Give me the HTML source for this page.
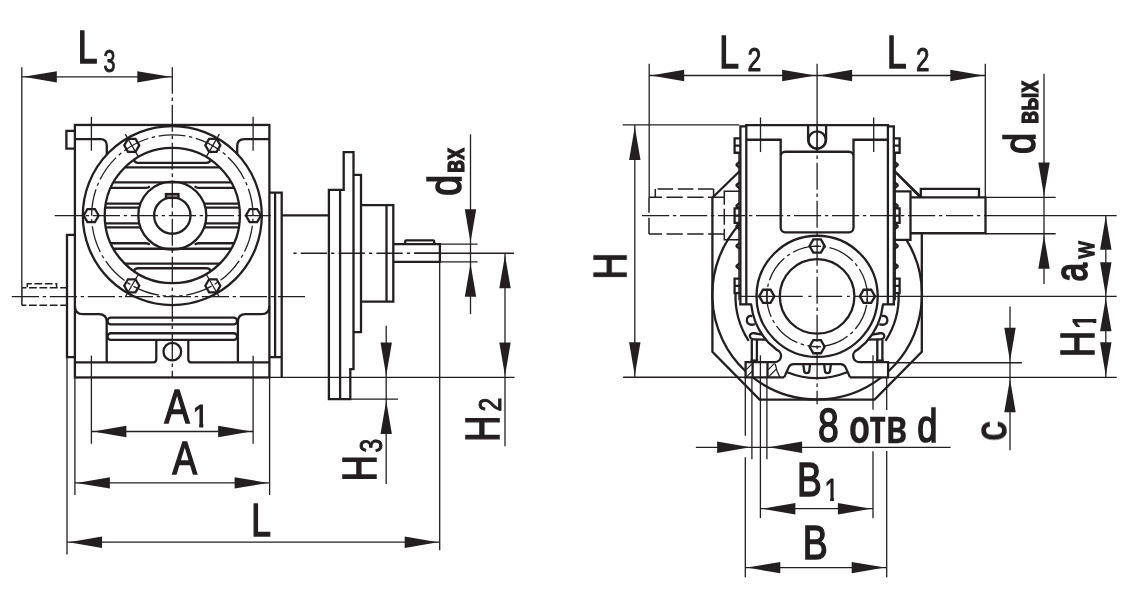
<!DOCTYPE html>
<html lang="ru">
<head>
<meta charset="utf-8">
<title>Габаритные и присоединительные размеры редуктора</title>
<style>
html,body{margin:0;padding:0;background:#fff;}
body{width:1143px;height:593px;overflow:hidden;}
svg{display:block;}
.k{stroke:#231f20;stroke-width:2.3;fill:none;}
.m{stroke:#231f20;stroke-width:1.5;fill:none;}
.n{stroke:#231f20;stroke-width:1.3;fill:none;}
.a{fill:#231f20;stroke:none;}
.tx{opacity:0.999;}
.t{font-family:"Liberation Sans",sans-serif;fill:#231f20;}
.b{font-weight:bold;}
</style>
</head>
<body>
<svg width="1143" height="593" viewBox="0 0 1143 593">
<rect x="0" y="0" width="1143" height="593" fill="#fff"/>
<g transform="translate(0 0.35)">
<g id="left-view">
<rect class="k" x="74.9" y="124.6" width="194.5" height="252.5"/>
<path class="k" d="M74.9 130.5H66.4V148.2H74.9"/>
<path class="k" d="M74.9 234.6H67V356.8H74.9"/>
<path class="k" d="M269.4 192.2H281.7V377.1"/>
<line class="k" x1="275.1" y1="192.2" x2="275.1" y2="356.8"/>
<line class="k" x1="269.4" y1="356.8" x2="281.7" y2="356.8"/>
<path class="k" d="M74.9 138.7H100.3Q106.8 138.7 106.8 145.2V154.21"/>
<path class="k" d="M269.4 138.7H244.4Q237.2 138.7 237.2 145.89999999999998V154.21"/>
<path class="k" d="M74.9 305.8Q74.9 313.8 83 313.8H99Q106.7 313.8 106.7 321.5V362.1"/>
<path class="k" d="M269.4 305.8Q269.4 313.8 261.3 313.8H245.6Q237.9 313.8 237.9 321.5V362.1"/>
<path class="k" d="M74.9 362.1H152.8Q156.3 362.1 156.3 358.3V339.6"/>
<path class="k" d="M269.4 362.1H191.8Q188.3 362.1 188.3 358.3V339.6"/>
<rect class="k" x="107.6" y="317.2" width="129.4" height="6.9" rx="3.2"/>
<rect class="k" x="107.6" y="332.9" width="129.4" height="6.7" rx="3.2"/>
<circle class="k" cx="172.3" cy="351.3" r="8.8"/>
<circle class="k" cx="172.3" cy="215.2" r="89.5"/>
<circle class="k" cx="172.3" cy="215.2" r="67.6"/>
<circle class="k" cx="172.3" cy="215.2" r="34"/>
<circle class="k" cx="172.3" cy="215.2" r="18.2"/>
<circle class="n" cx="172.3" cy="215.2" r="80.7" stroke-dasharray="27 3.6 3.4 3.65" stroke-dashoffset="24.2" transform="rotate(90 172.3 215.2)"/>
<rect class="k" x="165.9" y="193.7" width="12.6" height="3.9" style="fill:#8a8788"/>
<path class="k" d="M133.85 159.6Q134.85 162.5 137.85 162.5H206.75Q209.75 162.5 210.75 159.6"/>
<line class="k" x1="124.8" y1="167.1" x2="219.8" y2="167.1"/>
<line class="k" x1="113.41" y1="182" x2="231.19" y2="182"/>
<path class="k" d="M110.64 187.5H146Q148.5 187.5 149.8 185.9"/>
<path class="k" d="M233.96 187.5H198.6Q196.1 187.5 194.8 185.9"/>
<line class="k" x1="105.76" y1="203.3" x2="140.45" y2="203.3"/>
<line class="k" x1="204.15" y1="203.3" x2="238.84" y2="203.3"/>
<line class="k" x1="105.16" y1="207.3" x2="139.23" y2="207.3"/>
<line class="k" x1="205.37" y1="207.3" x2="239.44" y2="207.3"/>
<path class="k" d="M133.85 270.8Q134.85 267.9 137.85 267.9H206.75Q209.75 267.9 210.75 270.8"/>
<line class="k" x1="124.8" y1="263.3" x2="219.8" y2="263.3"/>
<line class="k" x1="113.41" y1="248.4" x2="231.19" y2="248.4"/>
<path class="k" d="M110.64 242.9H146Q148.5 242.9 149.8 244.5"/>
<path class="k" d="M233.96 242.9H198.6Q196.1 242.9 194.8 244.5"/>
<line class="k" x1="105.76" y1="227.1" x2="140.45" y2="227.1"/>
<line class="k" x1="204.15" y1="227.1" x2="238.84" y2="227.1"/>
<line class="k" x1="105.16" y1="223.1" x2="139.23" y2="223.1"/>
<line class="k" x1="205.37" y1="223.1" x2="239.44" y2="223.1"/>
<polygon class="k" points="260.9,215.2 257.15,221.7 249.65,221.7 245.9,215.2 249.65,208.7 257.15,208.7"/>
<polygon class="k" points="220.35,285.43 216.6,291.93 209.1,291.93 205.35,285.43 209.1,278.94 216.6,278.94"/>
<line class="n" x1="206.35" y1="274.18" x2="219.35" y2="296.69"/>
<polygon class="k" points="139.25,285.43 135.5,291.93 128,291.93 124.25,285.43 128,278.94 135.5,278.94"/>
<line class="n" x1="138.25" y1="274.18" x2="125.25" y2="296.69"/>
<polygon class="k" points="98.7,215.2 94.95,221.7 87.45,221.7 83.7,215.2 87.45,208.7 94.95,208.7"/>
<polygon class="k" points="139.25,144.97 135.5,151.46 128,151.46 124.25,144.97 128,138.47 135.5,138.47"/>
<line class="n" x1="138.25" y1="156.22" x2="125.25" y2="133.71"/>
<polygon class="k" points="220.35,144.97 216.6,151.46 209.1,151.46 205.35,144.97 209.1,138.47 216.6,138.47"/>
<line class="n" x1="206.35" y1="156.22" x2="219.35" y2="133.71"/>
<line class="n" x1="91.4" y1="116.5" x2="91.4" y2="150.3"/>
<line class="n" x1="91.4" y1="355.3" x2="91.4" y2="443.4"/>
<line class="n" x1="253.1" y1="116.5" x2="253.1" y2="150.3"/>
<line class="n" x1="253.1" y1="355.3" x2="253.1" y2="443.4"/>
<line class="n" x1="172.3" y1="67" x2="172.3" y2="377.4" stroke-dasharray="27.2 3.7 3.4 3.7" stroke-dashoffset="0.7"/>
<line class="n" x1="54.8" y1="215.3" x2="271" y2="215.3" stroke-dasharray="27.2 3.7 3.4 3.7"/>
<line class="n" x1="11.8" y1="296.3" x2="305.3" y2="296.3" stroke-dasharray="27.2 3.7 3.4 3.7"/>
<path class="m" d="M21.9 287.3V305"/>
<path class="m" d="M67 287.3H21.9M67 305H21.9" stroke-dasharray="7.8 2.6" stroke-dashoffset="1"/>
<path class="m" d="M27.3 287.3V283.5H56.6V287.3" stroke-dasharray="7.8 2.6" stroke-dashoffset="-0.5"/>
<line class="k" x1="281.7" y1="215" x2="328.9" y2="215"/>
<path class="k" d="M328.9 398.7V189.5H343.7V151.7H353.5V368.7H350.3V398.7Z"/>
<line class="k" x1="340.1" y1="189.5" x2="340.1" y2="398.7"/>
<path class="k" d="M353.5 174.5H361V331.8H353.5"/>
<path class="k" d="M361 204.7H393.3V301.3H361"/>
<line class="k" x1="386.5" y1="204.7" x2="386.5" y2="301.3"/>
<path class="k" d="M393.3 243.8H439.9V261.5H393.3"/>
<path class="k" d="M405.2 243.8V241Q405.2 240 406.2 240H433.2Q434.2 240 434.2 241V243.8"/>
<line class="n" x1="293.4" y1="252.9" x2="441" y2="252.9" stroke-dasharray="3.2 4.2 26.3 4.1"/>
<line class="n" x1="414.1" y1="252.9" x2="514" y2="252.9"/>
<line class="n" x1="269.7" y1="377.1" x2="514.5" y2="377.1"/>
<line class="n" x1="350.3" y1="398.7" x2="398" y2="398.7"/>
</g>
<g id="right-view">
<line class="k" x1="745.1" y1="124.8" x2="889.1" y2="124.8"/>
<path class="k" d="M740.4 304V126H746.3"/>
<line class="n" x1="738.9" y1="152.4" x2="738.9" y2="300"/>
<line class="k" x1="746.3" y1="124.8" x2="746.3" y2="304"/>
<line class="k" x1="739.2" y1="304" x2="751.9" y2="304"/>
<path class="k" d="M740.1 138H734.6V152.4H740.1M734.6 145.2H740.1"/>
<path class="k" d="M740.1 208.1H734.6V222.5H740.1M734.6 215.3H740.1"/>
<path class="k" d="M740.1 278.3H734.6V292.7H740.1M734.6 285.5H740.1"/>
<path class="k" d="M739.8 161.5L736.6 163.9V165.1L739.8 167.5" stroke-linejoin="round"/>
<path class="k" d="M739.8 182L736.6 184.4V185.6L739.8 188" stroke-linejoin="round"/>
<path class="k" d="M739.8 202.6L736.6 205V206.2L739.8 208.6" stroke-linejoin="round"/>
<path class="k" d="M739.8 223L736.6 225.4V226.6L739.8 229" stroke-linejoin="round"/>
<path class="k" d="M739.8 242.6L736.6 245V246.2L739.8 248.6" stroke-linejoin="round"/>
<path class="k" d="M739.8 263L736.6 265.4V266.6L739.8 269" stroke-linejoin="round"/>
<path class="k" d="M746.3 139.4H780.7V155"/>
<line class="k" x1="739.8" y1="170.6" x2="712.6" y2="197.2"/>
<path class="k" d="M752.3 315.7C748.6 314.6 746.5 317.5 746.8 320.6C747.1 323.6 750.5 325.4 754.8 323.8"/>
<path class="k" d="M762.1 334.3L754.3 332.9C750.8 332.5 749.6 334.3 749.9 336C750.3 338.3 752.3 339.1 755 339.1L766 339.3"/>
<line class="k" x1="751.8" y1="339.4" x2="751.8" y2="361.7"/>
<line class="k" x1="756.9" y1="339.4" x2="756.9" y2="361.7"/>
<line class="k" x1="750.6" y1="360.2" x2="758.1" y2="360.2"/>
<path class="k" d="M893.8 304V126H887.9"/>
<line class="n" x1="895.3" y1="152.4" x2="895.3" y2="300"/>
<line class="k" x1="887.9" y1="124.8" x2="887.9" y2="304"/>
<line class="k" x1="895" y1="304" x2="882.3" y2="304"/>
<path class="k" d="M894.1 138H899.6V152.4H894.1M899.6 145.2H894.1"/>
<path class="k" d="M894.1 208.1H899.6V222.5H894.1M899.6 215.3H894.1"/>
<path class="k" d="M894.1 278.3H899.6V292.7H894.1M899.6 285.5H894.1"/>
<path class="k" d="M894.4 161.5L897.6 163.9V165.1L894.4 167.5" stroke-linejoin="round"/>
<path class="k" d="M894.4 182L897.6 184.4V185.6L894.4 188" stroke-linejoin="round"/>
<path class="k" d="M894.4 202.6L897.6 205V206.2L894.4 208.6" stroke-linejoin="round"/>
<path class="k" d="M894.4 223L897.6 225.4V226.6L894.4 229" stroke-linejoin="round"/>
<path class="k" d="M894.4 242.6L897.6 245V246.2L894.4 248.6" stroke-linejoin="round"/>
<path class="k" d="M894.4 263L897.6 265.4V266.6L894.4 269" stroke-linejoin="round"/>
<path class="k" d="M887.9 139.4H853.5V155"/>
<line class="k" x1="894.4" y1="170.6" x2="921.6" y2="197.2"/>
<path class="k" d="M881.9 315.7C885.6 314.6 887.7 317.5 887.4 320.6C887.1 323.6 883.7 325.4 879.4 323.8"/>
<path class="k" d="M872.1 334.3L879.9 332.9C883.4 332.5 884.6 334.3 884.3 336C883.9 338.3 881.9 339.1 879.2 339.1L868.2 339.3"/>
<line class="k" x1="882.4" y1="339.4" x2="882.4" y2="361.7"/>
<line class="k" x1="877.3" y1="339.4" x2="877.3" y2="361.7"/>
<line class="k" x1="883.6" y1="360.2" x2="876.1" y2="360.2"/>
<rect class="k" x="780.7" y="151.4" width="72.8" height="80.6" rx="4.5"/>
<line class="n" x1="760.5" y1="117.1" x2="760.5" y2="151.7"/>
<line class="n" x1="873.7" y1="117.1" x2="873.7" y2="151.7"/>
<path class="k" d="M808.1 124.6V139.4A9 9 0 0 0 826.1 139.4V124.6"/>
<circle class="k" cx="817.1" cy="139.6" r="8.6"/>
<path class="k" d="M712.4 197.3V351.5L759.6 399.2H874.6L921.8 351.5V232.9"/>
<path class="k" d="M740.1 223.16A104.8 104.8 0 0 0 745.6 370.87"/>
<path class="k" d="M752.79 377A104.8 104.8 0 0 0 881.41 377"/>
<path class="k" d="M888.6 370.87A104.8 104.8 0 0 0 906.46 239.5"/>
<path class="k" d="M735.56 293A81.6 81.6 0 0 0 748.7 340.5"/>
<path class="k" d="M898.64 293A81.6 81.6 0 0 1 885.5 340.5"/>
<path class="k" d="M787.1 371.89A81.6 81.6 0 0 0 847.1 371.89"/>
<path class="k" d="M883 304A67 67 0 0 1 866 342L857.3 349.6A6.3 6.3 0 0 0 859.5 361.8H888.1V377H850"/>
<path class="k" d="M751.2 304A67 67 0 0 0 768.2 342L776.9 349.6A6.3 6.3 0 0 1 774.7 361.8H745.6V377H784.2"/>
<path class="k" d="M784.2 377L788.6 367Q790 363.7 793.6 363.7H840.6Q844.2 363.7 845.6 367L850 377"/>
<path class="k" d="M803.3 363.7L804.1 370.2A2.6 2.6 0 0 0 809.3 370.2L810.1 363.7"/>
<path class="k" d="M824.1 363.7L824.9 370.2A2.6 2.6 0 0 0 830.1 370.2L830.9 363.7"/>
<line class="k" x1="752.6" y1="361.7" x2="752.6" y2="377"/>
<line class="k" x1="767.5" y1="361.7" x2="767.5" y2="377"/>
<path class="n" d="M746.5 369L752 363.5M746.5 376.5L752 371M768 369.5L774.5 363M768 377L776.5 368.5M775.2 363.5Q776.5 371 779.8 376.8"/>
<circle class="k" cx="817.1" cy="296" r="60.6"/>
<circle class="k" cx="817.1" cy="296" r="37.3"/>
<circle class="n" cx="817.1" cy="296" r="50.3" stroke-dasharray="26.9 3.6 3.4 3.6" stroke-dashoffset="17.2" transform="rotate(90 817.1 296.0)"/>
<polygon class="k" points="875,296 871.2,302.58 863.6,302.58 859.8,296 863.6,289.42 871.2,289.42"/>
<polygon class="k" points="824.7,346.3 820.9,352.88 813.3,352.88 809.5,346.3 813.3,339.72 820.9,339.72"/>
<polygon class="k" points="774.4,296 770.6,302.58 763,302.58 759.2,296 763,289.42 770.6,289.42"/>
<polygon class="k" points="824.7,245.7 820.9,252.28 813.3,252.28 809.5,245.7 813.3,239.12 820.9,239.12"/>
<line class="n" x1="812" y1="246" x2="821" y2="246"/>
<line class="n" x1="812" y1="346.3" x2="821" y2="346.3"/>
<line class="n" x1="767" y1="288.5" x2="767" y2="303.5"/>
<line class="n" x1="867.2" y1="288.5" x2="867.2" y2="303.5"/>
<path class="m" d="M724.4 197H649M724.4 233.6H649" stroke-dasharray="16.3 4.5"/>
<path class="m" d="M649 197V233.6" stroke-dasharray="15.3 5 16.4 0"/>
<path class="m" d="M713.6 197V188.6M655.3 188.6V197"/>
<path class="m" d="M713.6 188.6H655.3" stroke-dasharray="15.6 4.6"/>
<path class="m" d="M739.5 191H724.3V197M724.3 233.4V239.3H739.5"/>
<path class="m" d="M724.3 197V233.4" stroke-dasharray="7.5 4 16 4 7.5 0" stroke-dashoffset="0"/>
<path class="k" d="M894.4 191H910.5V239.5H894.4"/>
<path class="k" d="M910.5 197H985.5V232.9H910.5"/>
<path class="k" d="M920.8 197V188.5H979V197"/>
<line class="k" x1="894.4" y1="170.6" x2="920.4" y2="197"/>
<line class="n" x1="642" y1="215.3" x2="985.2" y2="215.3" stroke-dasharray="27.2 3.7 3.4 3.7"/>
<line class="n" x1="985.2" y1="215.3" x2="1116.7" y2="215.3"/>
<line class="n" x1="817.1" y1="63.5" x2="817.1" y2="150.6"/>
<line class="n" x1="817.1" y1="124.3" x2="817.1" y2="404" stroke-dasharray="27.2 3.7 3.4 3.7"/>
<path class="n" d="M740.5 296H802.8M808.3 296H811.5M815.9 296H842.2M847 296H849.8M854.2 296H1116.7"/>
<line class="n" x1="760.4" y1="355" x2="760.4" y2="517.8"/>
<path class="n" d="M873 355V409.5M873 450.9V517.8"/>
</g>
<g id="dims">
<line class="n" x1="21.8" y1="67" x2="21.8" y2="287.5"/>
<line class="n" x1="21.8" y1="76.5" x2="172.3" y2="76.5"/>
<polygon class="a" points="23.5,76.5 56.8,70.8 56.8,82.2"/>
<polygon class="a" points="170.6,76.5 137.3,70.8 137.3,82.2"/>
<line class="n" x1="91.4" y1="431.15" x2="253.1" y2="431.15"/>
<polygon class="a" points="93.1,431.15 126.4,425.45 126.4,436.85"/>
<polygon class="a" points="251.4,431.15 218.1,425.45 218.1,436.85"/>
<line class="n" x1="74.9" y1="377" x2="74.9" y2="494.7"/>
<line class="n" x1="269.6" y1="377" x2="269.6" y2="494.7"/>
<line class="n" x1="74.9" y1="482.55" x2="269.6" y2="482.55"/>
<polygon class="a" points="76.6,482.55 109.9,476.85 109.9,488.25"/>
<polygon class="a" points="267.9,482.55 234.6,476.85 234.6,488.25"/>
<line class="n" x1="67" y1="356.8" x2="67" y2="554.2"/>
<line class="n" x1="439.7" y1="261.5" x2="439.7" y2="549.8"/>
<line class="n" x1="67" y1="541.85" x2="439.7" y2="541.85"/>
<polygon class="a" points="68.7,541.85 102,536.15 102,547.55"/>
<polygon class="a" points="438,541.85 404.7,536.15 404.7,547.55"/>
<line class="n" x1="386.2" y1="325.3" x2="386.2" y2="483.6"/>
<polygon class="a" points="386.2,375.4 380.5,342.1 391.9,342.1"/>
<polygon class="a" points="386.2,400.3 380.5,433.6 391.9,433.6"/>
<line class="n" x1="505" y1="252.9" x2="505" y2="445.8"/>
<polygon class="a" points="505,254.6 499.3,287.9 510.7,287.9"/>
<polygon class="a" points="505,375.5 499.3,342.2 510.7,342.2"/>
<line class="n" x1="470.5" y1="134" x2="470.5" y2="313.8"/>
<polygon class="a" points="470.5,242.2 464.8,208.9 476.2,208.9"/>
<polygon class="a" points="470.5,263.1 464.8,296.4 476.2,296.4"/>
<line class="n" x1="439.9" y1="243.8" x2="477.6" y2="243.8"/>
<line class="n" x1="439.9" y1="261.5" x2="477.6" y2="261.5"/>
<line class="n" x1="649.2" y1="63.4" x2="649.2" y2="196.8"/>
<line class="n" x1="985.3" y1="63.4" x2="985.3" y2="197"/>
<line class="n" x1="649.2" y1="75.15" x2="985.3" y2="75.15"/>
<polygon class="a" points="650.9,75.15 684.2,69.45 684.2,80.85"/>
<polygon class="a" points="815.4,75.15 782.1,69.45 782.1,80.85"/>
<polygon class="a" points="818.8,75.15 852.1,69.45 852.1,80.85"/>
<polygon class="a" points="983.6,75.15 950.3,69.45 950.3,80.85"/>
<line class="n" x1="622.6" y1="124.6" x2="739.2" y2="124.6"/>
<line class="n" x1="623.1" y1="376.9" x2="745.6" y2="376.9"/>
<line class="n" x1="634.8" y1="124.6" x2="634.8" y2="376.9"/>
<polygon class="a" points="634.8,126.3 629.1,159.6 640.5,159.6"/>
<polygon class="a" points="634.8,375.2 629.1,341.9 640.5,341.9"/>
<line class="n" x1="1044" y1="73.4" x2="1044" y2="283.7"/>
<polygon class="a" points="1044,195.4 1038.3,162.1 1049.7,162.1"/>
<polygon class="a" points="1044,235.1 1038.3,268.4 1049.7,268.4"/>
<line class="n" x1="985.5" y1="197" x2="1055.7" y2="197"/>
<line class="n" x1="985.5" y1="233.4" x2="1055.7" y2="233.4"/>
<line class="n" x1="1105.8" y1="215.3" x2="1105.8" y2="377"/>
<polygon class="a" points="1105.8,216 1100.1,249.3 1111.5,249.3"/>
<polygon class="a" points="1105.8,295.3 1100.1,262 1111.5,262"/>
<polygon class="a" points="1105.8,297.7 1100.1,331 1111.5,331"/>
<polygon class="a" points="1105.8,375.3 1100.1,342 1111.5,342"/>
<line class="n" x1="888.1" y1="377" x2="1116.7" y2="377"/>
<line class="n" x1="888.1" y1="362.4" x2="1021.9" y2="362.4"/>
<line class="n" x1="1010" y1="306.1" x2="1010" y2="449.8"/>
<polygon class="a" points="1010,360.8 1004.3,327.5 1015.7,327.5"/>
<polygon class="a" points="1010,378.6 1004.3,411.9 1015.7,411.9"/>
<line class="n" x1="695.9" y1="446.95" x2="950.6" y2="446.95"/>
<polygon class="a" points="750.4,446.95 717.1,441.25 717.1,452.65"/>
<polygon class="a" points="768.8,446.95 802.1,441.25 802.1,452.65"/>
<path class="n" d="M745.3 377V435.5M745.3 456.8V576.9"/>
<line class="n" x1="751.9" y1="377" x2="751.9" y2="459"/>
<line class="n" x1="766.9" y1="377" x2="766.9" y2="459"/>
<path class="n" d="M886.7 377V409.6M886.7 450.6V576.9"/>
<line class="n" x1="760.4" y1="508.35" x2="872.9" y2="508.35"/>
<polygon class="a" points="762.1,508.35 795.4,502.65 795.4,514.05"/>
<polygon class="a" points="871.2,508.35 837.9,502.65 837.9,514.05"/>
<line class="n" x1="745.3" y1="567.25" x2="886.7" y2="567.25"/>
<polygon class="a" points="747,567.25 780.3,561.55 780.3,572.95"/>
<polygon class="a" points="885,567.25 851.7,561.55 851.7,572.95"/>
</g>
</g>
<g class="tx">
<text class="t" font-size="46.51" stroke="#231f20" stroke-width="1.6" stroke-linejoin="miter" transform="translate(77.80 63.20) scale(0.761 1)">L</text>
<text class="t" font-size="31.64" stroke="#231f20" stroke-width="1.0" stroke-linejoin="miter" transform="translate(103.48 71.79) scale(0.680 1)">3</text>
<text class="t" font-size="46.66" stroke="#231f20" stroke-width="1.6" stroke-linejoin="miter" transform="translate(719.18 67.50) scale(0.763 1)">L</text>
<text class="t" font-size="32.51" stroke="#231f20" stroke-width="1.0" stroke-linejoin="miter" transform="translate(747.55 71.00) scale(0.763 1)">2</text>
<text class="t" font-size="46.66" stroke="#231f20" stroke-width="1.6" stroke-linejoin="miter" transform="translate(887.12 67.50) scale(0.753 1)">L</text>
<text class="t" font-size="32.51" stroke="#231f20" stroke-width="1.0" stroke-linejoin="miter" transform="translate(915.89 71.00) scale(0.743 1)">2</text>
<text class="t" font-size="47.82" stroke="#231f20" stroke-width="1.6" stroke-linejoin="miter" transform="translate(164.43 423.10) scale(0.785 1)">A</text>
<clipPath id="c1b"><rect x="0" y="-31.98" width="11.71" height="28.62"/><rect x="7.20" y="-6.40" width="4.51" height="6.90"/></clipPath>
<text class="t" font-size="31.98" stroke="#231f20" stroke-width="1.0" clip-path="url(#c1b)" transform="translate(192.56 427.40) scale(0.924 1)">1</text>
<text class="t" font-size="46.22" stroke="#231f20" stroke-width="1.6" stroke-linejoin="miter" transform="translate(172.43 474.20) scale(0.793 1)">A</text>
<text class="t" font-size="45.79" stroke="#231f20" stroke-width="1.6" stroke-linejoin="miter" transform="translate(251.30 535.50) scale(0.773 1)">L</text>
<text class="t" font-size="47.46" stroke="#231f20" stroke-width="1.6" stroke-linejoin="miter" transform="translate(817.88 442.34) scale(0.786 1)">8</text>
<text class="t b" font-size="48.01" stroke="#231f20" stroke-width="0.3" stroke-linejoin="miter" transform="translate(849.01 442.98) scale(0.716 1)">отв</text>
<text class="t" font-size="45.34" stroke="#231f20" stroke-width="1.6" stroke-linejoin="miter" transform="translate(917.27 442.36) scale(0.804 1)">d</text>
<text class="t" font-size="47.97" stroke="#231f20" stroke-width="1.6" stroke-linejoin="miter" transform="translate(797.06 496.20) scale(0.772 1)">B</text>
<clipPath id="c1c"><rect x="0" y="-32.12" width="11.85" height="28.76"/><rect x="7.15" y="-6.42" width="4.70" height="6.92"/></clipPath>
<text class="t" font-size="32.12" stroke="#231f20" stroke-width="1.0" clip-path="url(#c1c)" transform="translate(824.55 500.70) scale(0.792 1)">1</text>
<text class="t" font-size="47.38" stroke="#231f20" stroke-width="1.6" stroke-linejoin="miter" transform="translate(802.73 559.00) scale(0.789 1)">B</text>
<text class="t" font-size="48.11" stroke="#231f20" stroke-width="1.6" stroke-linejoin="miter" transform="translate(376.20 481.17) rotate(-90) scale(0.752 1)">H</text>
<text class="t" font-size="31.92" stroke="#231f20" stroke-width="1.0" stroke-linejoin="miter" transform="translate(381.79 452.44) rotate(-90) scale(0.773 1)">3</text>
<text class="t" font-size="48.26" stroke="#231f20" stroke-width="1.6" stroke-linejoin="miter" transform="translate(499.00 441.78) rotate(-90) scale(0.753 1)">H</text>
<text class="t" font-size="31.22" stroke="#231f20" stroke-width="1.0" stroke-linejoin="miter" transform="translate(500.50 411.55) rotate(-90) scale(0.794 1)">2</text>
<text class="t" font-size="45.75" stroke="#231f20" stroke-width="1.6" stroke-linejoin="miter" transform="translate(461.35 195.87) rotate(-90) scale(0.817 1)">d</text>
<text class="t b" font-size="30.10" stroke="#231f20" stroke-width="1.2" stroke-linejoin="miter" transform="translate(464.20 172.89) rotate(-90) scale(0.708 1)">вх</text>
<text class="t" font-size="46.22" stroke="#231f20" stroke-width="1.6" stroke-linejoin="miter" transform="translate(626.10 279.33) rotate(-90) scale(0.798 1)">H</text>
<text class="t" font-size="44.80" stroke="#231f20" stroke-width="1.6" stroke-linejoin="miter" transform="translate(1035.26 154.01) rotate(-90) scale(0.854 1)">d</text>
<text class="t b" font-size="30.10" stroke="#231f20" stroke-width="1.2" stroke-linejoin="miter" transform="translate(1038.40 123.89) rotate(-90) scale(0.710 1)">вых</text>
<text class="t" font-size="45.63" stroke="#231f20" stroke-width="2.0" stroke-linejoin="miter" transform="translate(1087.35 281.42) rotate(-90) scale(0.734 1)">a</text>
<text class="t" font-size="27.63" stroke="#231f20" stroke-width="1.6" stroke-linejoin="miter" transform="translate(1094.40 258.17) rotate(-90) scale(0.842 1)">w</text>
<text class="t" font-size="47.68" stroke="#231f20" stroke-width="1.6" stroke-linejoin="miter" transform="translate(1093.90 357.30) rotate(-90) scale(0.766 1)">H</text>
<clipPath id="c1d"><rect x="0" y="-32.70" width="11.97" height="29.29"/><rect x="7.37" y="-6.54" width="4.60" height="7.04"/></clipPath>
<text class="t" font-size="32.70" stroke="#231f20" stroke-width="1.0" clip-path="url(#c1d)" transform="translate(1096.20 329.54) rotate(-90) scale(0.904 1)">1</text>
<text class="t" font-size="45.09" stroke="#231f20" stroke-width="1.6" stroke-linejoin="miter" transform="translate(1005.96 440.74) rotate(-90) scale(0.854 1)">c</text>
</g>
</svg>
</body>
</html>
